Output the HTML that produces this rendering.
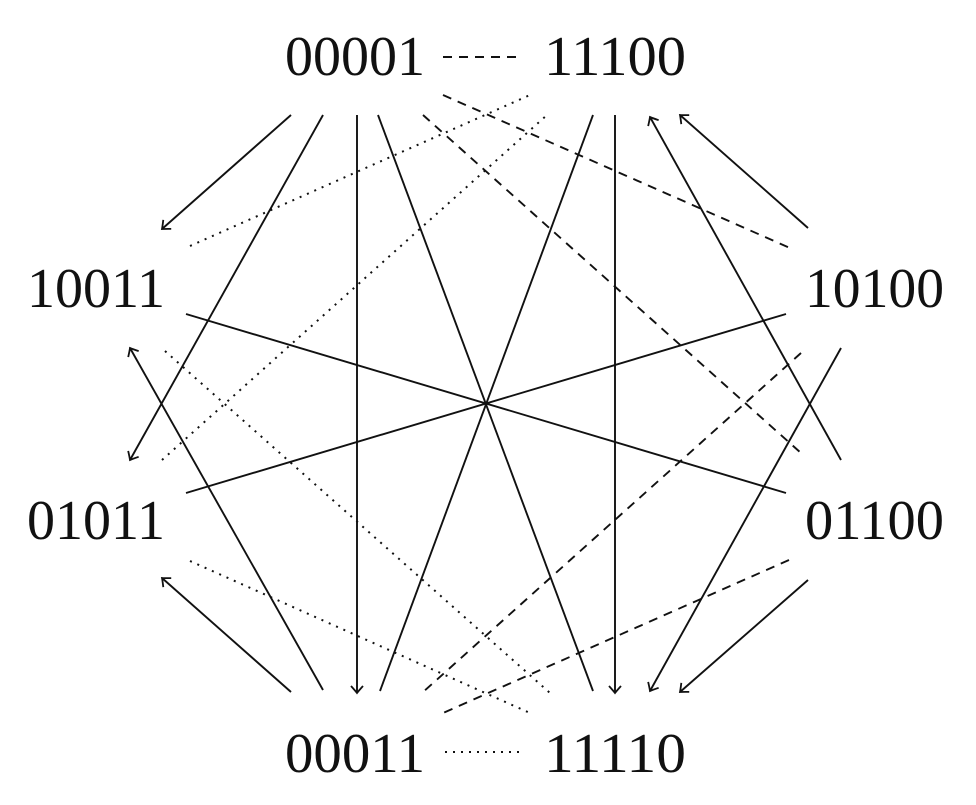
<!DOCTYPE html>
<html><head><meta charset="utf-8"><style>
html,body{margin:0;padding:0;background:#fff}
svg{display:block}
text{font-family:"Liberation Serif",serif;font-size:56px;fill:#111}
</style></head><body>
<svg width="976" height="805" viewBox="0 0 976 805" xmlns="http://www.w3.org/2000/svg">
<defs>
<marker id="a" markerUnits="userSpaceOnUse" markerWidth="20" markerHeight="20" viewBox="-10 -10 20 20" refX="0" refY="0" orient="auto">
<path d="M-7,-6 Q-2,-1.5 0,0 Q-2,1.5 -7,6" fill="none" stroke="#111" stroke-width="1.8"/>
</marker>
</defs>
<g stroke="#111" stroke-width="1.9" fill="none">
<line x1="291" y1="115" x2="162" y2="229" marker-end="url(#a)"/>
<line x1="323" y1="115" x2="130" y2="460" marker-end="url(#a)"/>
<line x1="357" y1="115" x2="357" y2="693" marker-end="url(#a)"/>
<line x1="378" y1="115" x2="593" y2="691"/>
<line x1="186" y1="314" x2="786" y2="493"/>
<line x1="186" y1="493" x2="786" y2="314"/>
<line x1="593" y1="115" x2="380" y2="691"/>
<line x1="615" y1="115" x2="615" y2="693" marker-end="url(#a)"/>
<line x1="808" y1="228" x2="680" y2="115" marker-end="url(#a)"/>
<line x1="841" y1="460" x2="650" y2="117" marker-end="url(#a)"/>
<line x1="841" y1="348" x2="650" y2="691" marker-end="url(#a)"/>
<line x1="323" y1="690" x2="130" y2="348" marker-end="url(#a)"/>
<line x1="808" y1="580" x2="680" y2="692" marker-end="url(#a)"/>
<line x1="291" y1="692" x2="162" y2="578" marker-end="url(#a)"/>
<g stroke-dasharray="9,7">
<line x1="443" y1="57" x2="522" y2="57"/>
<line x1="443" y1="95" x2="790" y2="248"/>
<line x1="423" y1="115" x2="801" y2="453"/>
<line x1="801" y1="353" x2="422" y2="693"/>
<line x1="789" y1="560" x2="443" y2="713"/>
</g>
<g stroke-dasharray="2,6" stroke-width="2">
<line x1="445" y1="752" x2="522" y2="752"/>
<line x1="190" y1="246" x2="530" y2="95"/>
<line x1="162" y1="460" x2="547" y2="115"/>
<line x1="165" y1="351" x2="550" y2="693"/>
<line x1="190" y1="561" x2="530" y2="713"/>
</g>
</g>
<text x="285" y="75" textLength="140" lengthAdjust="spacingAndGlyphs">00001</text>
<text x="544" y="75" textLength="142" lengthAdjust="spacingAndGlyphs">11100</text>
<text x="27" y="307" textLength="138" lengthAdjust="spacingAndGlyphs">10011</text>
<text x="805" y="307" textLength="139" lengthAdjust="spacingAndGlyphs">10100</text>
<text x="27" y="539" textLength="138" lengthAdjust="spacingAndGlyphs">01011</text>
<text x="805" y="539" textLength="139" lengthAdjust="spacingAndGlyphs">01100</text>
<text x="285" y="772" textLength="140" lengthAdjust="spacingAndGlyphs">00011</text>
<text x="544" y="772" textLength="142" lengthAdjust="spacingAndGlyphs">11110</text>
</svg>
</body></html>
